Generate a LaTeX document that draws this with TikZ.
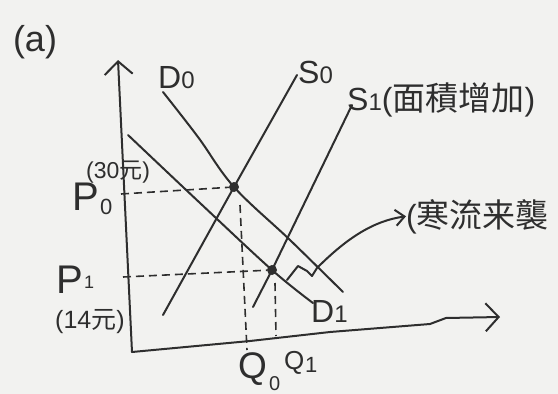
\documentclass[tikz,border=0pt]{standalone}
\usepackage{fontspec}
\setmainfont{Liberation Sans}
\newfontfamily\cjk{Noto Sans CJK TC}
\usetikzlibrary{arrows.meta}
\definecolor{ink}{HTML}{2E2E2E}
\definecolor{paper}{HTML}{F2F2F0}
\begin{document}
\begin{tikzpicture}[x=1pt,y=-1pt,
  inkline/.style={draw=ink,line width=2pt,line cap=round,line join=round},
  dashline/.style={draw=ink,line width=1.6pt,dash pattern=on 8pt off 5pt},
  barb/.style={-{Straight Barb[length=13pt,width=28pt,line width=2pt]}},
  lbl/.style={text=ink,inner sep=0pt,font=\fontsize{32}{34}\selectfont},
  biglbl/.style={text=ink,inner sep=0pt,font=\fontsize{40}{42}\selectfont},
  sublbl/.style={text=ink,inner sep=0pt,font=\fontsize{22}{24}\selectfont},
  cnlbl/.style={text=ink,inner sep=0pt,font=\fontsize{32}{34}\selectfont},
  dotmark/.style={circle,fill=ink,inner sep=0pt,minimum size=10pt}]
\fill[paper] (0,0) rectangle (558,394);
\useasboundingbox (0,0) rectangle (558,394);

% axes
\coordinate (ytop) at (118,60);
\coordinate (O) at (132,352);
\coordinate (xend) at (500,317);
\draw[inkline,barb] (O) -- (ytop);
\draw[inkline,barb] (O) -- (250,341) -- (330,332) -- (430,324) -- (446,318) -- (xend);

% equilibrium points
\node[dotmark] (E0) at (234,187) {};
\node[dotmark] (E1) at (272,270) {};

% curves
\draw[inkline] plot[smooth,tension=0.6] coordinates {(163,92) (198,137) (234,187) (290,240) (343,292)};
\draw[inkline] plot[smooth,tension=0.6] coordinates {(128,135) (200,203) (272,270) (313,303)};
\draw[inkline] (163,315) -- (E0.center) -- (297,75);
\draw[inkline] (253,307) -- (E1.center) -- (352,105);

% dashed guides
\coordinate (p0y) at (121,194);
\coordinate (q0top) at (240,205);
\coordinate (q0x) at (247,350);
\coordinate (p1y) at (123,277);
\coordinate (q1top) at (275,283);
\coordinate (q1x) at (276,336);
\draw[dashline] (p0y) -- (E0);
\draw[dashline] (q0top) -- (q0x);
\draw[dashline] (p1y) -- (E1);
\draw[dashline] (q1top) -- (q1x);

% labels
\node[text=ink,inner sep=0pt,font=\fontsize{36}{38}\selectfont] (lbla) at (35,42) {(a)};
\node[lbl,anchor=base west] (D0) at (158,88) {D{\fontsize{24}{24}\selectfont 0}};
\node[lbl,anchor=base west] (S0) at (298,83) {S{\fontsize{24}{24}\selectfont 0}};
\node[lbl,anchor=base west] (S1) at (347,110) {S{\fontsize{24}{24}\selectfont 1}({\cjk\fontsize{33}{34}\selectfont 面積增加})};
\node[lbl,anchor=base west] (D1) at (311,322) {D{\fontsize{24}{24}\selectfont 1}};
\node[biglbl,anchor=base west] (P0) at (72,210) {P};
\node[sublbl,anchor=base west] (P0s) at (100,214) {0};
\node[sublbl,anchor=base west,font=\fontsize{23}{24}\selectfont] (P0v) at (86,178) {(30{\cjk 元})};
\node[biglbl,anchor=base west] (P1) at (56,293) {P};
\node[sublbl,anchor=base west,font=\fontsize{18}{18}\selectfont] (P1s) at (84,288) {1};
\node[sublbl,anchor=base west,font=\fontsize{25}{26}\selectfont] (P1v) at (55,328) {(14{\cjk 元})};
\node[biglbl,anchor=base west,font=\fontsize{37}{38}\selectfont] (Q0) at (238,378) {Q};
\node[sublbl,anchor=base west,font=\fontsize{20}{20}\selectfont] (Q0s) at (269,390) {0};
\node[lbl,anchor=base west,font=\fontsize{26}{27}\selectfont] (Q1) at (284,369) {Q};
\node[sublbl,anchor=base west] (Q1s) at (305,372) {1};
\node[cnlbl,anchor=base west] (cold) at (406,227) {({\cjk\fontsize{33}{34}\selectfont 寒流来襲}};

% arrow to the cold-wave note
\coordinate (zz) at (287,280);
\draw[inkline,-{Straight Barb[length=9pt,width=16pt,line width=2pt]}]
  (zz) -- (298,266) -- (307,271) -- (312,276) -- (317,268)
  .. controls (345,240) and (372,221) .. (cold.west);
\end{tikzpicture}
\end{document}
